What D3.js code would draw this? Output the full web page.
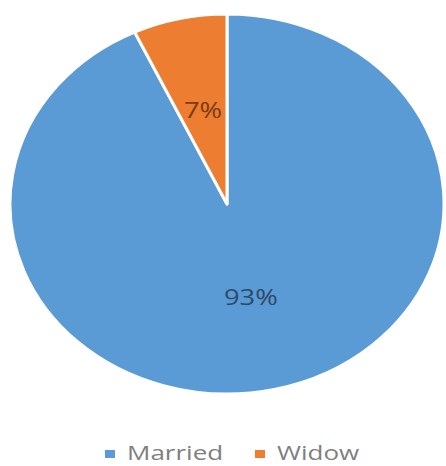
<!DOCTYPE html>
<html>
<head>
<meta charset="utf-8">
<script src="https://cdn.jsdelivr.net/npm/d3@7"></script>
<style>
  html, body { margin: 0; padding: 0; background: #ffffff; }
  svg { display: block; }
</style>
</head>
<body>
<svg id="chart" width="446" height="466"></svg>
<script>
const categories = ["Married", "Widow"];
const values = [93, 7];
const labels = ["93%", "7%"];
const colors = ["#5b9bd5", "#ed7d31"];
const labelColors = ["#2c4a69", "#7a3a12"];

const W = 446, H = 466;
const cx = 227, cy = 204, rx = 217, ry = 190;
const stretch = rx / ry;
const textStretch = 1.3;

const svg = d3.select("#chart");

const data = categories.map((c, i) => ({ name: c, value: values[i], label: labels[i], color: colors[i], lc: labelColors[i] }));

const pie = d3.pie().sort(null).value(d => d.value);
const arcs = pie(data);
const arc = d3.arc().innerRadius(0).outerRadius(ry);
const labelArc = d3.arc().innerRadius(0).outerRadius(ry * 1.01);

const g = svg.append("g").attr("transform", `translate(${cx},${cy}) scale(${stretch},1)`);

g.selectAll("path.slice")
  .data(arcs)
  .enter().append("path")
  .attr("class", "slice")
  .attr("d", arc)
  .attr("fill", d => d.data.color)
  .attr("stroke", "#ffffff")
  .attr("stroke-width", 3)
  .attr("vector-effect", "non-scaling-stroke")
  .attr("stroke-linejoin", "round");

// labels
const lg = svg.append("g").attr("transform", `translate(${cx},${cy})`);
lg.selectAll("text.lbl")
  .data(arcs)
  .enter().append("text")
  .attr("class", "lbl")
  .attr("transform", d => {
    const c = labelArc.centroid(d);
    return `translate(${c[0] * stretch},${c[1]}) scale(${textStretch},1)`;
  })
  .attr("text-anchor", "middle")
  .attr("dy", "0.35em")
  .attr("font-family", "'Open Sans', sans-serif")
  .attr("font-size", 21)
  .attr("fill", d => d.data.lc)
  .text(d => d.data.label);

// legend
const legendX = [105, 255];
const leg = svg.append("g");
const items = leg.selectAll("g.item")
  .data(data)
  .enter().append("g")
  .attr("class", "item")
  .attr("transform", (d, i) => `translate(${legendX[i]},460)`);

items.append("rect")
  .attr("x", 0).attr("y", -10)
  .attr("width", 10).attr("height", 8)
  .attr("fill", d => d.color);

items.append("text")
  .attr("transform", `translate(22,0) scale(${textStretch},1)`)
  .attr("font-family", "'Open Sans', sans-serif")
  .attr("font-size", 20)
  .attr("fill", "#7f7f7f")
  .text(d => d.name);
</script>
</body>
</html>
